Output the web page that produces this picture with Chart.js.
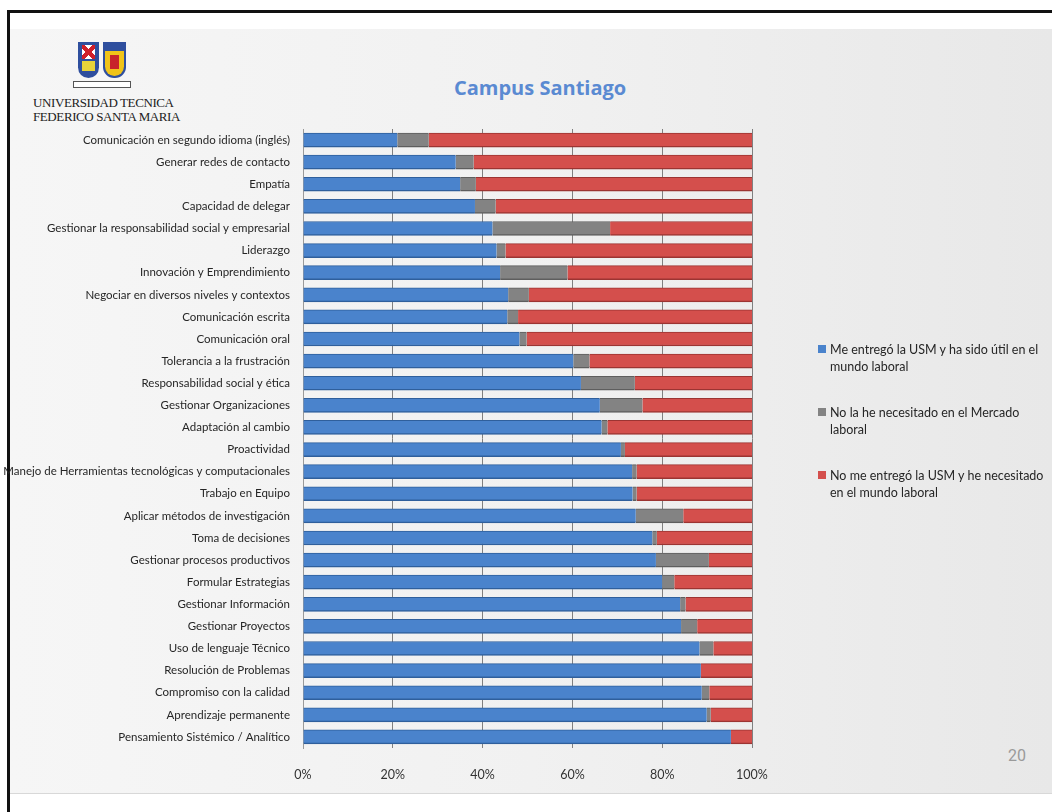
<!DOCTYPE html>
<html>
<head>
<meta charset="utf-8">
<script src="https://cdn.jsdelivr.net/npm/chart.js@4.4.1/dist/chart.umd.min.js"></script>
<style>
  html, body { margin: 0; padding: 0; background: #fff; }
  body { width: 1052px; height: 812px; position: relative; overflow: hidden; font-family: Lato, sans-serif; }
  .frame-top { position: absolute; left: 7px; top: 10px; width: 1045px; height: 3px; background: #111; }
  .frame-left { position: absolute; left: 7px; top: 10px; width: 3px; height: 802px; background: #111; }
  .slide { position: absolute; left: 10px; top: 29px; width: 1042px; height: 764px;
           background: linear-gradient(90deg, #f6f6f6 0%, #f1f1f1 50%, #e8e8e8 100%); border-bottom: 1px solid #d8d8d8; }
  .logo { position: absolute; left: 33px; top: 42px; }
  .shield { position: absolute; top: 0; width: 21px; height: 36px; border-radius: 0 0 11px 11px; }
  .s1 { left: 45px; background: #2f4f9e; }
  .s1::before { content: ""; position: absolute; left: 4px; top: 3px; width: 13px; height: 14px; background:
     linear-gradient(45deg, transparent 40%, #d0202a 40%, #d0202a 60%, transparent 60%),
     linear-gradient(-45deg, transparent 40%, #d0202a 40%, #d0202a 60%, transparent 60%), #fff; }
  .s1::after { content: ""; position: absolute; left: 4px; top: 19px; width: 13px; height: 10px; background: #e8d33a; }
  .s2 { left: 70px; width: 23px; background: #2f4f9e; }
  .s2::before { content: ""; position: absolute; left: 2px; top: 9px; width: 19px; height: 25px; border-radius: 0 0 10px 10px; background: #f0c419; }
  .s2::after { content: ""; position: absolute; left: 7px; top: 13px; width: 9px; height: 14px; background: #c8242b; }
  .banner { position: absolute; left: 40px; top: 39px; width: 56px; height: 5px; border: 1px solid #555; background: #fff; }
  .uni { position: absolute; left: 0; top: 54px; font-family: "Liberation Serif", serif; font-size: 13px; line-height: 14px; letter-spacing: -0.4px; color: #222; white-space: nowrap; }
  .title { position: absolute; left: 454px; top: 74px; font-family: "Open Sans", sans-serif; font-weight: bold; font-size: 20px; color: #5a8ad2; white-space: nowrap; }
  .page { position: absolute; left: 1008px; top: 746px; font-family: Roboto, sans-serif; font-size: 16px; color: #9a9a9a; }
  canvas { position: absolute; left: 0; top: 0; }
  #legend { position: absolute; left: 818px; top: 341px; width: 230px; }
  .item { position: relative; padding-left: 12px; font-size: 12.5px; line-height: 17px; color: #262626; margin-bottom: 29px; font-family: Lato, sans-serif; }
  .item span.sw { position: absolute; left: 0; top: 4px; width: 8px; height: 8px; }
</style>
</head>
<body>
<div class="slide"></div>
<div class="frame-top"></div>
<div class="frame-left"></div>
<div class="logo">
  <div class="shield s1"></div>
  <div class="shield s2"></div>
  <div class="banner"></div>
  <div class="uni">UNIVERSIDAD TECNICA<br>FEDERICO SANTA MARIA</div>
</div>
<div class="title">Campus Santiago</div>
<div class="page">20</div>
<canvas id="chart" width="1052" height="812"></canvas>
<div id="legend"></div>
<script>
const categories = [
  "Comunicación en segundo idioma (inglés)",
  "Generar redes de contacto",
  "Empatía",
  "Capacidad de delegar",
  "Gestionar la responsabilidad social y empresarial",
  "Liderazgo",
  "Innovación y Emprendimiento",
  "Negociar en diversos niveles y contextos",
  "Comunicación escrita",
  "Comunicación oral",
  "Tolerancia a la frustración",
  "Responsabilidad social y ética",
  "Gestionar Organizaciones",
  "Adaptación al cambio",
  "Proactividad",
  "Manejo de Herramientas tecnológicas y computacionales",
  "Trabajo en Equipo",
  "Aplicar métodos de investigación",
  "Toma de decisiones",
  "Gestionar procesos productivos",
  "Formular Estrategias",
  "Gestionar Información",
  "Gestionar Proyectos",
  "Uso de lenguaje Técnico",
  "Resolución de Problemas",
  "Compromiso con la calidad",
  "Aprendizaje permanente",
  "Pensamiento Sistémico / Analítico"
];

// percentages, top to bottom
const util = [21, 34, 35, 38.3, 42.2, 43.1, 43.9, 45.7, 45.5, 48.2, 60.2, 61.9, 66.1, 66.5, 70.8,
              73.3, 73.4, 74.1, 77.8, 78.6, 80, 84, 84.2, 88.3, 88.6, 88.8, 89.9, 95.3];
const noNecesitado = [7, 4, 3.5, 4.6, 26.2, 2, 15, 4.6, 2.4, 1.6, 3.6, 12, 9.5, 1.3, 0.9,
                      1, 0.9, 10.6, 1, 11.8, 2.7, 1.2, 3.6, 3.1, 0, 1.7, 0.9, 0];
const noEntrego = [72, 62, 61.5, 57.1, 31.6, 54.9, 41.1, 49.7, 52.1, 50.2, 36.2, 26.1, 24.4, 32.2, 28.3,
                   25.7, 25.7, 15.3, 21.2, 9.6, 17.3, 14.8, 12.2, 8.6, 11.4, 9.5, 9.2, 4.7];

const seriesNames = [
  "Me entregó la USM y ha sido útil en el mundo laboral",
  "No la he necesitado en el Mercado laboral",
  "No me entregó la USM y he necesitado en el mundo laboral"
];
const seriesColors = ["#4a83cc", "#838383", "#d44f4c"];
const seriesBorders = ["#2f5f9c", "#5e5e5e", "#9c3432"];
const xTicks = [0, 20, 40, 60, 80, 100];

const seriesData = [util, noNecesitado, noEntrego];

new Chart(document.getElementById("chart"), {
  type: "bar",
  data: {
    labels: categories,
    datasets: seriesData.map((d, i) => ({
      label: seriesNames[i],
      data: d,
      backgroundColor: seriesColors[i],
      borderColor: seriesBorders[i],
      borderWidth: { top: 1, bottom: 1.5, left: 0, right: 0 },
      borderSkipped: false,
      barThickness: 14
    }))
  },
  options: {
    indexAxis: "y",
    responsive: false,
    animation: false,
    layout: { padding: { left: 0, top: 129, right: 300, bottom: 0 } },
    plugins: { legend: { display: false }, tooltip: { enabled: false } },
    scales: {
      x: {
        stacked: true, min: 0, max: 100,
        afterBuildTicks: s => { s.ticks = xTicks.map(v => ({ value: v })); },
        afterFit: s => { s.height = 64; },
        grid: { color: "#808080", lineWidth: 1, drawTicks: false },
        border: { display: false },
        ticks: { padding: 19, color: "#333", font: { family: "Lato", size: 12.5 }, callback: v => v + "%" }
      },
      y: {
        stacked: true,
        afterFit: s => { s.width = 303; },
        grid: { display: false, drawTicks: false },
        border: { display: true, color: "#9a9a9a" },
        ticks: { padding: 13, color: "#262626", autoSkip: false, font: { family: "Lato", size: 11.5 } }
      }
    }
  }
});

const legend = document.getElementById("legend");
seriesNames.forEach((name, i) => {
  const div = document.createElement("div");
  div.className = "item";
  div.innerHTML = '<span class="sw" style="background:' + seriesColors[i] + '"></span>' + name;
  legend.appendChild(div);
});
</script>
</body>
</html>
